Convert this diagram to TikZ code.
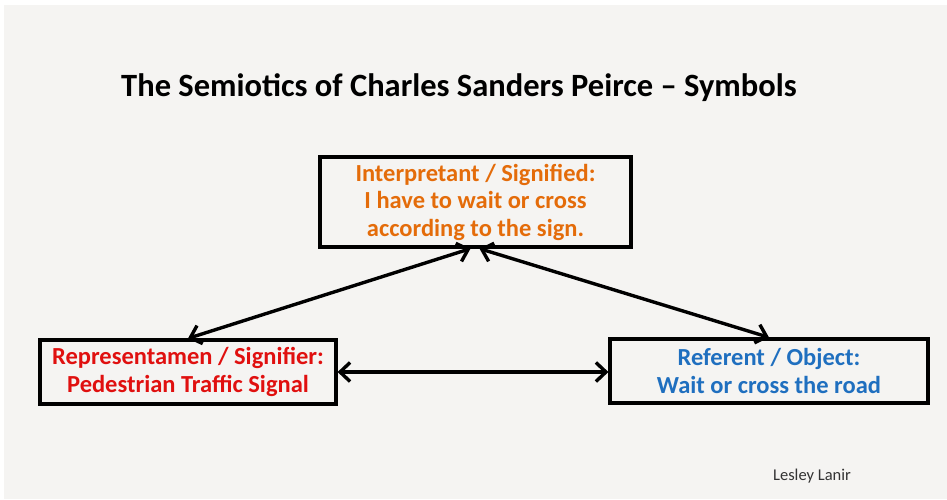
\documentclass[tikz,border=0pt]{standalone}
\usepackage{fontspec}
\setmainfont{Carlito}
\usetikzlibrary{arrows.meta}
\definecolor{bg}{HTML}{F5F4F2}
\definecolor{orng}{HTML}{E46C0A}
\definecolor{rd}{HTML}{E0100F}
\definecolor{blu}{HTML}{1F6FBF}
\definecolor{auth}{HTML}{333333}
\begin{document}
\begin{tikzpicture}[x=1pt,y=-1pt,
  box/.style={draw=black, line width=3.2pt, fill=bg, inner sep=0pt, align=center,
    font=\bfseries\fontsize{24.5}{27.5}\selectfont},
  link/.style={line width=3.4pt, {Straight Barb[length=10pt,width=19pt]}-{Straight Barb[length=10pt,width=19pt]}}]
\fill[white] (0,0) rectangle (947,499);
\fill[bg] (4,5) rectangle (947,499);
\useasboundingbox (0,0) rectangle (947,499);
\node[font=\bfseries\fontsize{32.5}{36}\selectfont] (title) at (459,88) {The Semiotics of Charles Sanders Peirce – Symbols};
\node[box, minimum width=311pt, minimum height=90pt, text=orng] (interp) at (475.5,202) {Interpretant / Signified:\\I have to wait or cross\\according to the sign.};
\node[box, minimum width=296pt, minimum height=64pt, text=rd] (repr) at (188,372) {Representamen / Signifier:\\Pedestrian Traffic Signal};
\node[box, minimum width=318pt, minimum height=64pt, text=blu] (ref) at (769,371) {Referent / Object:\\Wait or cross the road};
\node[font=\fontsize{16.5}{19}\selectfont, text=auth] (author) at (812,476) {Lesley Lanir};
\draw[link] (repr.north) -- ([xshift=-5pt]interp.south);
\draw[link] ([xshift=4pt]interp.south) -- (ref.north);
\draw[link] (repr.east) -- (repr.east -| ref.west);
\end{tikzpicture}
\end{document}
